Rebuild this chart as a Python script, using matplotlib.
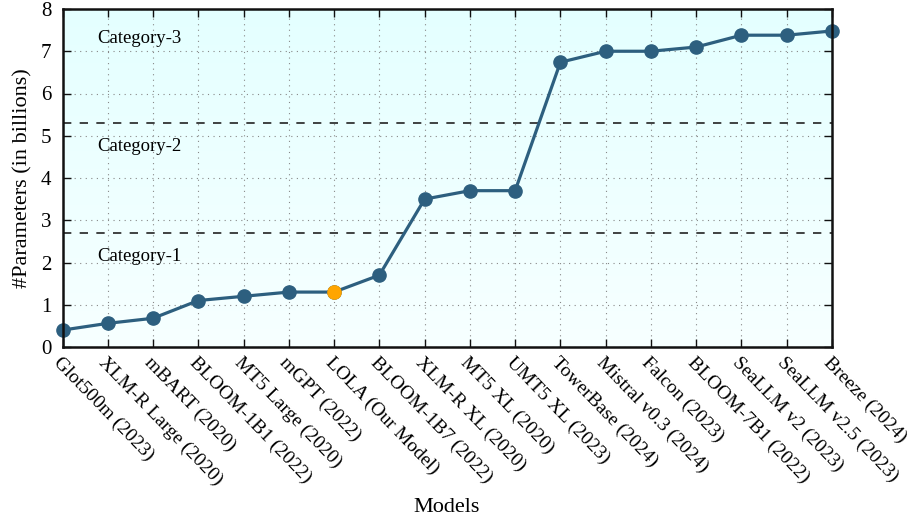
import numpy as np
import matplotlib
matplotlib.use("Agg")
import matplotlib.pyplot as plt
from matplotlib.colors import LinearSegmentedColormap

models = ["Glot500m (2023)", "XLM-R Large (2020)", "mBART (2020)", "BLOOM-1B1 (2022)",
          "MT5 Large (2020)", "mGPT (2022)", "LOLA (Our Model)", "BLOOM-1B7 (2022)",
          "XLM-R XL (2020)", "MT5 XL (2020)", "UMT5 XL (2023)", "TowerBase (2024)",
          "Mistral v0.3 (2024)", "Falcon (2023)", "BLOOM-7B1 (2022)", "SeaLLM v2 (2023)",
          "SeaLLM v2.5 (2023)", "Breeze (2024)"]
params = [0.40, 0.56, 0.68, 1.1, 1.2, 1.3, 1.3, 1.7, 3.5, 3.7, 3.7, 6.74, 7.0, 7.0, 7.1, 7.38, 7.38, 7.48]
highlight = "LOLA (Our Model)"
thresholds = [2.7, 5.3]
cat_labels = ["Category-1", "Category-2", "Category-3"]
cat_label_y = [2.15, 4.75, 7.3]
yticks = [0, 1, 2, 3, 4, 5, 6, 7, 8]

plt.rcParams['font.family'] = ['Liberation Serif', 'DejaVu Serif']

fig = plt.figure(figsize=(9.1, 5.2), dpi=100)
ax = fig.add_axes([62.5/910, 1-347/520, (832-62.5)/910, (347-9)/520])

x = np.arange(len(models))
n = len(models)
ax.set_xlim(0, n-1)
ax.set_ylim(0, 8)

# gradient background
cmap = LinearSegmentedColormap.from_list("bg", ["#f7ffff", "#e4ffff"])
grad = np.linspace(0, 1, 256).reshape(-1, 1)
ax.imshow(grad, extent=[0, n-1, 0, 8], origin="lower", aspect="auto", cmap=cmap, zorder=0)

ax.grid(True, linestyle=(0, (1, 4)), color="#888888", linewidth=0.8, zorder=1)
ax.set_axisbelow(True)

for t in thresholds:
    ax.axhline(t, color="#222222", linestyle=(0, (5, 5)), linewidth=1.2, zorder=2)

line_color = "#2d5f7f"
ax.plot(x, params, color=line_color, linewidth=2.3, marker="o", markersize=9.5,
        zorder=4, clip_on=False)
hi = models.index(highlight)
ax.plot([x[hi]], [params[hi]], marker="o", markersize=9.5, color="#ffa500",
        linestyle="none", zorder=5)

for lbl, yy in zip(cat_labels, cat_label_y):
    ax.text(0.77, yy, lbl, fontsize=13.5, va="center", ha="left", zorder=3)

ax.set_xticks(x)
ax.set_xticklabels(models, rotation=-46, ha="left", va="top", rotation_mode="anchor",
                   fontsize=14)
ax.set_yticks(yticks)
ax.set_yticklabels([str(v) for v in yticks], fontsize=15)
ax.tick_params(axis="both", direction="in", length=6, width=1, top=True, right=True,
               color="#111111")
ax.tick_params(axis="x", pad=5)
ax.tick_params(axis="y", pad=8)
for s in ax.spines.values():
    s.set_linewidth(1.8)
    s.set_color("#111111")
    s.set_zorder(6)

ax.set_ylabel("#Parameters (in billions)", fontsize=16, labelpad=6)
fig.text(447/910, 1-507/520, "Models", fontsize=16, ha="center", va="center")

fig.savefig("out.png", dpi=100)
